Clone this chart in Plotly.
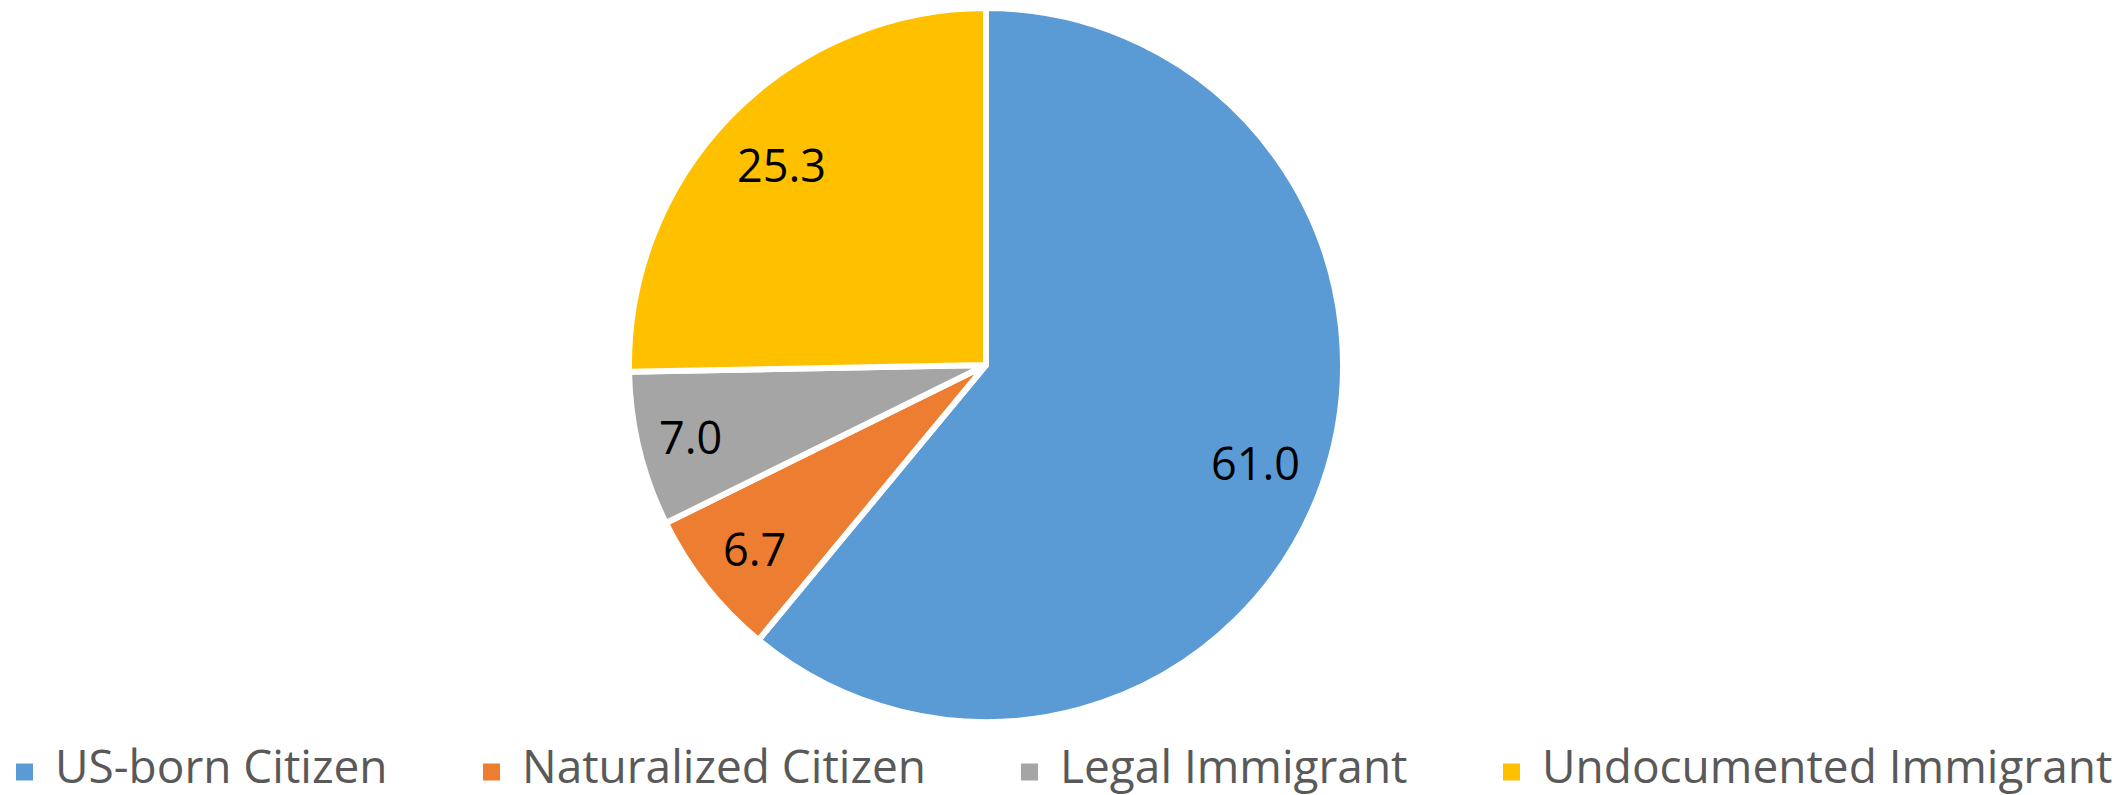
import math
import plotly.graph_objects as go

categories = ["US-born Citizen", "Naturalized Citizen", "Legal Immigrant", "Undocumented Immigrant"]
values = [61.0, 6.7, 7.0, 25.3]
colors = ["#5B9BD5", "#ED7D31", "#A5A5A5", "#FFC000"]

W, H = 2118, 795
cx, cy, r = 986, 365, 357

# radial placement (fraction of radius) of the value labels, as in the original
label_radius = [0.81, 0.835, 0.86, 0.81]

fig = go.Figure(go.Pie(
    labels=categories,
    values=values,
    textinfo="none",
    marker=dict(colors=colors, line=dict(color="#FFFFFF", width=6)),
    sort=False,
    direction="clockwise",
    rotation=0,
    domain=dict(x=[(cx - r) / W, (cx + r) / W], y=[1 - (cy + r) / H, 1 - (cy - r) / H]),
    hoverinfo="label+value",
    showlegend=False,
))

# value labels placed at the middle angle of each slice
total = sum(values)
cum = 0.0
for v, fr in zip(values, label_radius):
    mid = (cum + v / 2) / total * 2 * math.pi
    cum += v
    px = cx + fr * (r - 3) * math.sin(mid)
    py = cy - fr * (r - 3) * math.cos(mid)
    fig.add_annotation(
        x=px / W, y=1 - py / H, xref="paper", yref="paper",
        text=f"{v:.1f}", showarrow=False,
        xanchor="center", yanchor="middle",
        font=dict(family="Open Sans", size=45, color="#000000"),
    )

# legend (Excel-style, bottom row)
legend_square_x = [16, 483, 1021, 1503]
legend_sq_center = 772
sq = 17
for name, col, x0 in zip(categories, colors, legend_square_x):
    fig.add_shape(
        type="rect", xref="paper", yref="paper",
        x0=x0 / W, x1=(x0 + sq) / W,
        y0=1 - (legend_sq_center + sq / 2) / H, y1=1 - (legend_sq_center - sq / 2) / H,
        fillcolor=col, line=dict(width=0),
    )
    fig.add_annotation(
        x=(x0 + sq + 20) / W, y=-3 / H, xref="paper", yref="paper",
        text=name, showarrow=False, xanchor="left", yanchor="bottom",
        font=dict(family="Open Sans", size=46, color="#595959"),
    )

fig.update_layout(
    width=W, height=H,
    margin=dict(l=0, r=0, t=0, b=0),
    paper_bgcolor="#FFFFFF",
    plot_bgcolor="#FFFFFF",
    showlegend=False,
)

fig.write_html(
    "out.html",
    config={"displayModeBar": False},
    post_script="document.body.style.margin='0';document.body.style.overflow='hidden';",
)
